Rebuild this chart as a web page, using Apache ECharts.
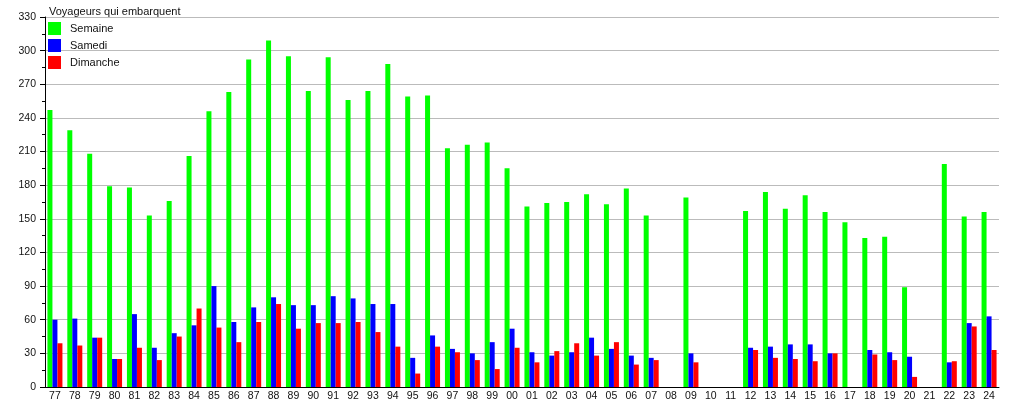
<!DOCTYPE html>
<html>
<head>
<meta charset="utf-8">
<script src="https://cdn.jsdelivr.net/npm/echarts@6/dist/echarts.min.js"></script>
<style>
  html, body { margin: 0; padding: 0; background: #fff; }
  #chart { width: 1015px; height: 400px; }
</style>
</head>
<body>
<div id="chart"></div>
<script>
// années (deux chiffres)
const years = ["77","78","79","80","81","82","83","84","85","86","87","88","89","90","91","92",
  "93","94","95","96","97","98","99","00","01","02","03","04","05","06","07","08",
  "09","10","11","12","13","14","15","16","17","18","19","20","21","22","23","24"];

// voyageurs qui embarquent
const semaine = [247,229,208,179,178,153,166,206,246,263,292,309,295,264,294,256,
  264,288,259,260,213,216,218,195,161,164,165,172,163,177,153,null,
  169,null,null,157,174,159,171,156,147,133,134,89,null,199,152,156];
const samedi = [60,61,44,25,65,35,48,55,90,58,71,80,73,73,81,79,
  74,74,26,46,34,30,40,52,31,28,31,44,34,28,26,null,
  30,null,null,35,36,38,38,30,null,33,31,27,null,22,57,63];
const dimanche = [39,37,44,25,35,24,45,70,53,40,58,74,52,57,57,58,
  49,36,12,36,31,24,16,35,22,32,39,28,40,20,24,null,
  22,null,null,33,26,25,23,30,null,29,24,9,null,23,54,33];

const yTicks = { min: 0, max: 330, step: 30 };

const font = "Liberation Sans, Arial, sans-serif";
const chart = echarts.init(document.getElementById("chart"));

const option = {
  animation: false,
  backgroundColor: "#fff",
  textStyle: { fontFamily: font },
  title: {
    text: "Voyageurs qui embarquent",
    left: 44,
    top: 1,
    textStyle: { fontSize: 11, fontWeight: "normal", color: "#111", fontFamily: font }
  },
  legend: {
    orient: "vertical",
    left: 48,
    top: 22,
    padding: 0,
    itemWidth: 13,
    itemHeight: 13,
    itemGap: 4,
    icon: "rect",
    textStyle: { fontSize: 11, color: "#111", padding: [0, 0, 0, 4] },
    data: ["Semaine", "Samedi", "Dimanche"]
  },
  grid: { left: 45, right: 16, top: 17, bottom: 13, containLabel: false, outerBoundsMode: "none" },
  xAxis: {
    type: "category",
    data: years,
    axisLine: { lineStyle: { color: "#000", width: 1 } },
    axisTick: { show: false },
    axisLabel: { interval: 0, fontSize: 10.5, color: "#111", margin: 4 }
  },
  yAxis: {
    type: "value",
    min: yTicks.min,
    max: yTicks.max,
    interval: yTicks.step,
    axisLine: { show: true, lineStyle: { color: "#000", width: 1 } },
    axisTick: { show: true, length: 5, lineStyle: { color: "#000" } },
    minorTick: { show: true, splitNumber: 2, length: 3, lineStyle: { color: "#000" } },
    axisLabel: { fontSize: 10.5, color: "#111", margin: 9 },
    splitLine: { show: true, lineStyle: { color: "#bbb", width: 1 } }
  },
  series: [
    { name: "Semaine", type: "bar", data: semaine, barWidth: 5, barGap: "0%",
      itemStyle: { color: "#00ff00" } },
    { name: "Samedi", type: "bar", data: samedi, barWidth: 5, barGap: "0%",
      itemStyle: { color: "#0000ff" } },
    { name: "Dimanche", type: "bar", data: dimanche, barWidth: 5, barGap: "0%",
      itemStyle: { color: "#ff0000" } }
  ]
};

chart.setOption(option);
</script>
</body>
</html>
